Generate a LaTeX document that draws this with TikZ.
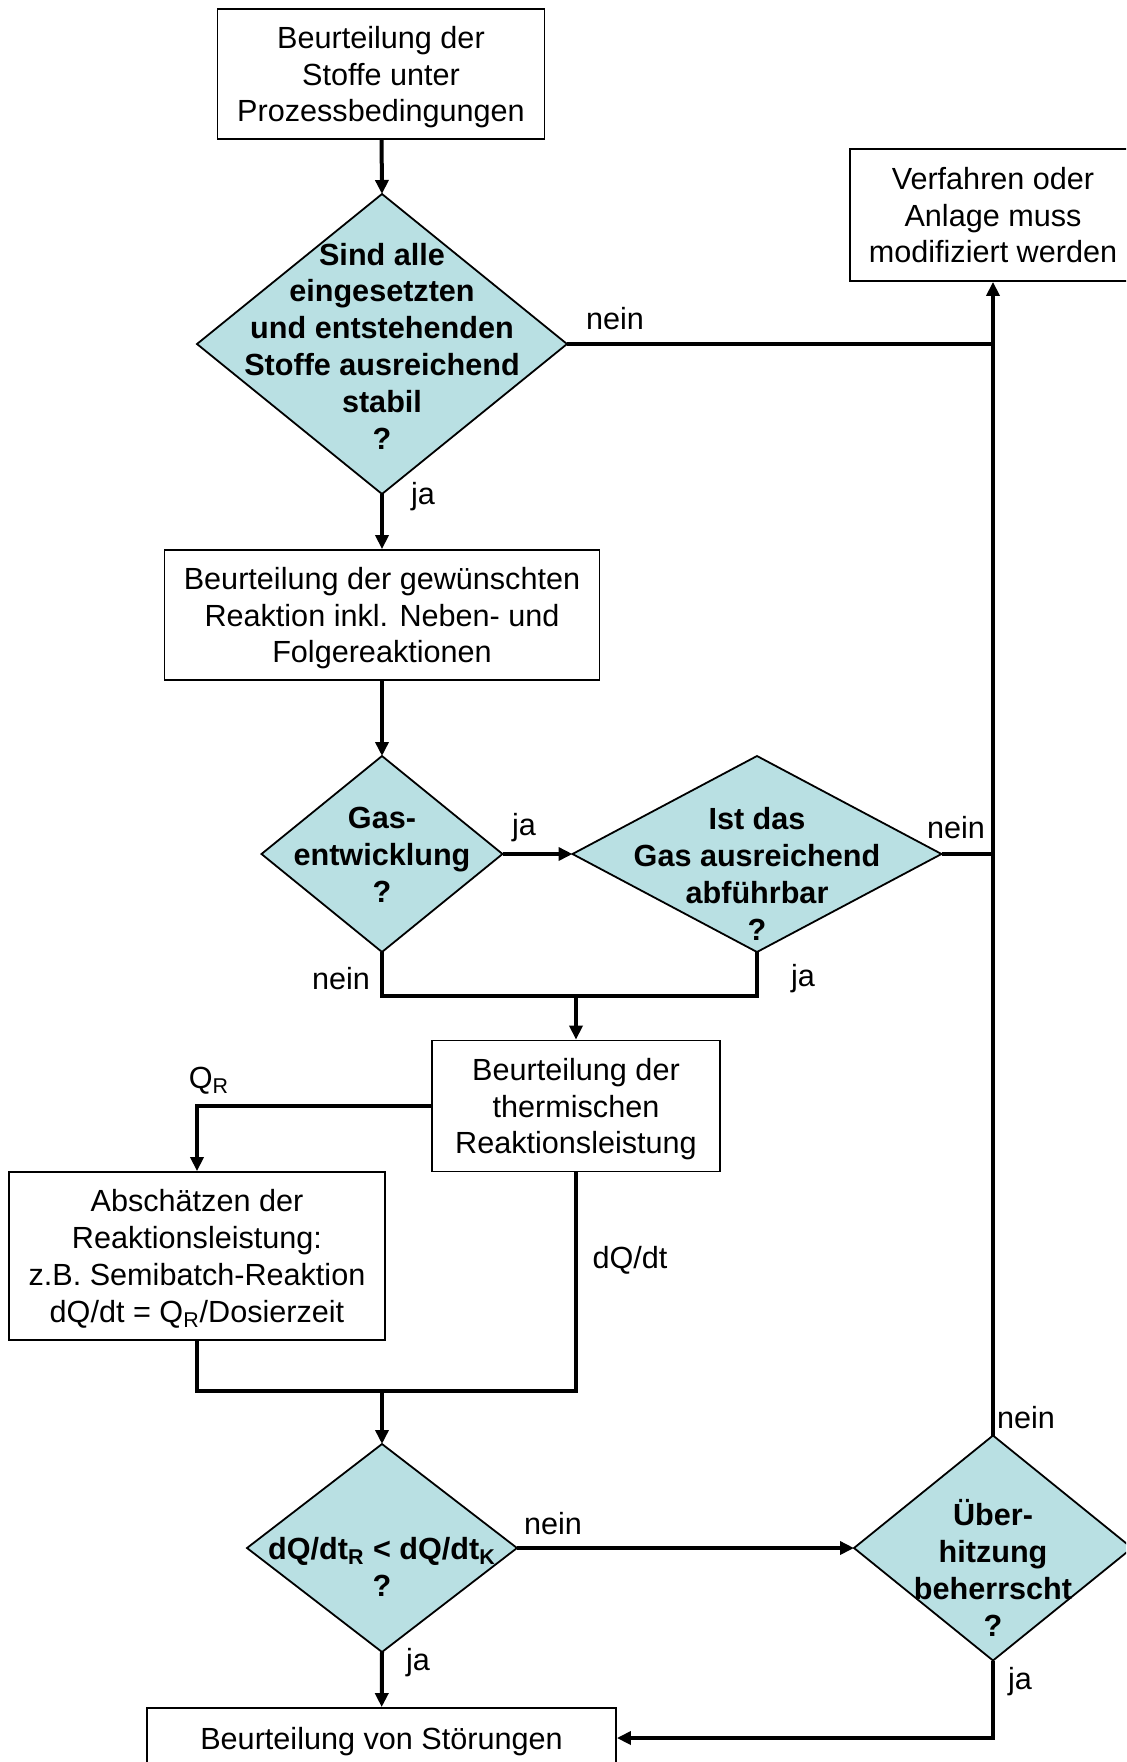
\documentclass[tikz,border=0pt]{standalone}
\usepackage{fontspec}
\setmainfont{Liberation Sans}
\usepackage{tikz}
\usetikzlibrary{positioning,arrows.meta,shapes.geometric,calc}

\definecolor{dia}{RGB}{185,224,227}

\begin{document}
\begin{tikzpicture}[
        x=0.5pt, y=-0.5pt,
        every node/.style={font=\fontsize{15.3}{18.4}\selectfont},
        box/.style={
            draw, line width=0.9pt, align=center, inner sep=2pt, text depth=0pt
        },
        rhomb/.style={
            draw, line width=0.9pt, shape=diamond, fill=dia,
            inner sep=0pt, outer sep=0pt
        },
        qtext/.style={align=center, font=\fontsize{15.3}{18.4}\selectfont\bfseries},
        lbl/.style={inner sep=0pt},
        conn/.style={line width=2pt},
        flow/.style={conn, -{Triangle[length=7pt,width=6.5pt]}}
    ]
        \useasboundingbox (0,0) rectangle (1126,1762);
        \clip (0,0) rectangle (1126,1762);

        % boxes
        \node[box, minimum width=163.5pt, minimum height=65pt] (stoffe) at (381,74)
            {Beurteilung der\\Stoffe unter\\Prozessbedingungen};
        \node[box, minimum width=143pt, minimum height=66pt] (verf) at (993,215)
            {Verfahren oder\\Anlage muss\\modifiziert werden};
        \node[box, minimum width=217.5pt, minimum height=65pt] (reakt) at (382,615)
            {Beurteilung der gewünschten\\Reaktion inkl. Neben- und\\Folgereaktionen};
        \node[box, minimum width=144pt, minimum height=65.5pt] (therm) at (576,1106)
            {Beurteilung der\\thermischen\\Reaktionsleistung};
        \node[box, minimum width=188pt, minimum height=84pt] (absch) at (197,1256)
            {Abschätzen der\\Reaktionsleistung:\\z.B. Semibatch-Reaktion\\dQ/dt = Q\textsubscript{R}/Dosierzeit};
        \node[box, minimum width=234.5pt, minimum height=30pt] (stoer) at (381.5,1738)
            {Beurteilung von Störungen};

        % decisions
        \node[rhomb, minimum width=185pt, minimum height=150pt] (stabil) at (382,344) {};
        \node[qtext] (stabilt) at (382,346)
            {Sind alle\\eingesetzten\\und entstehenden\\Stoffe ausreichend\\stabil\\?};
        \node[rhomb, minimum width=120.5pt, minimum height=98pt] (gas) at (382,854) {};
        \node[qtext] (gast) at (382,855) {Gas-\\entwicklung\\?};
        \node[rhomb, minimum width=184.5pt, minimum height=98pt] (abf) at (757,854) {};
        \node[qtext] (abft) at (757,874) {Ist das\\Gas ausreichend\\abführbar\\?};
        \node[rhomb, minimum width=135pt, minimum height=104pt] (dqdt) at (382,1548) {};
        \node[qtext] (dqdtt) at (382,1567)
            {dQ/dt\textsubscript{R} < dQ/dt\textsubscript{K}\\?};
        \node[rhomb, minimum width=139pt, minimum height=112.5pt] (ueber) at (993,1548) {};
        \node[qtext] (uebert) at (993,1568) {Über-\\hitzung\\beherrscht\\?};

        % junctions
        \coordinate (j1) at (576,996);
        \coordinate (j2) at (382,1391);

        % connectors
        \draw[flow] (stoffe) -- (stabil.north);
        \draw[flow] (stabil.south) -- (reakt);
        \draw[flow] (reakt) -- (gas.north);
        \draw[flow] (gas.east) -- (abf.west);
        \draw[conn] (gas.south) |- (j1) -| (abf.south);
        \draw[flow] (j1) -- (therm);
        \draw[flow] (therm.west) -| (absch.north);
        \draw[conn] (absch.south) |- (j2) -| (therm.south);
        \draw[flow] (j2) -- (dqdt.north);
        \draw[flow] (dqdt.east) -- (ueber.west);
        \draw[flow] (dqdt.south) -- (stoer);
        \draw[flow] (ueber.south) |- (stoer.east);
        \draw[flow] (ueber.north) -- (verf.south);
        \draw[conn] (stabil.east) -- (stabil.east -| verf.south);
        \draw[conn] (abf.east) -- (abf.east -| verf.south);

        % labels
        \node[lbl] (l1) at (615,319) {nein};
        \node[lbl] (l2) at (423,497) {ja};
        \node[lbl] (l3) at (524,828) {ja};
        \node[lbl] (l4) at (956,828) {nein};
        \node[lbl] (l5) at (341,979) {nein};
        \node[lbl] (l6) at (803,979) {ja};
        \node[lbl] (l7) at (209,1081) {Q\textsubscript{R}};
        \node[lbl] (l8) at (630,1260) {dQ/dt};
        \node[lbl] (l9) at (553,1524) {nein};
        \node[lbl] (l10) at (1026,1418) {nein};
        \node[lbl] (l11) at (418,1663) {ja};
        \node[lbl] (l12) at (1020,1682) {ja};
\end{tikzpicture}
\end{document}
